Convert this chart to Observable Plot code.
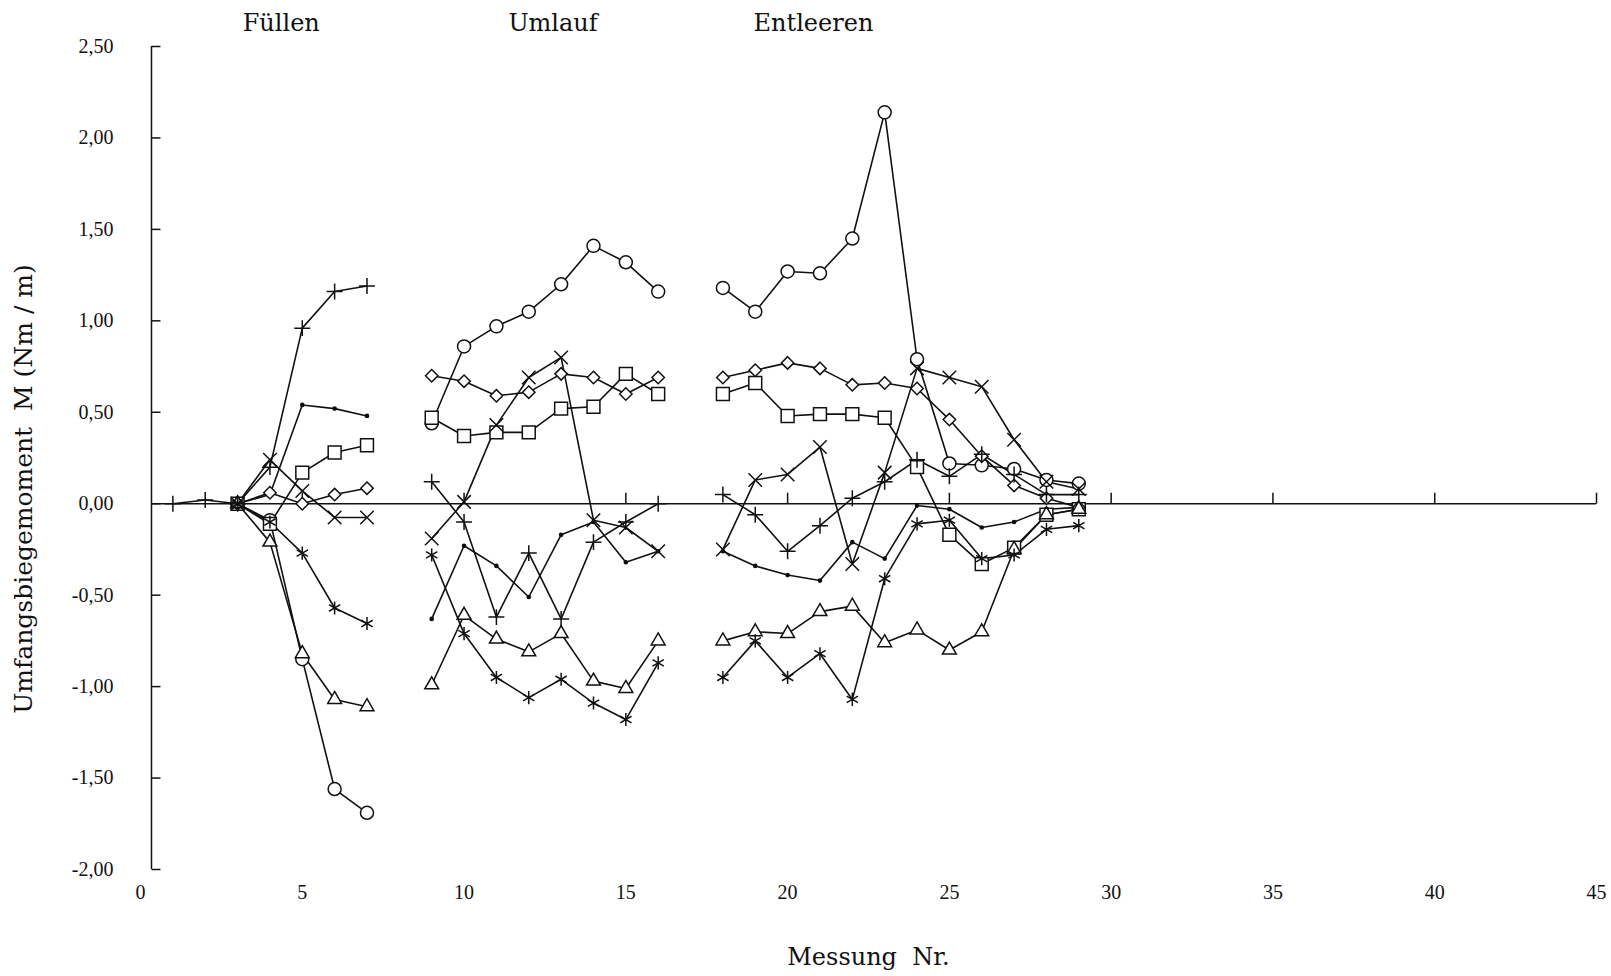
<!DOCTYPE html>
<html>
<head>
<meta charset="utf-8">
<script src="https://cdn.jsdelivr.net/npm/d3@7"></script>
<script src="https://cdn.jsdelivr.net/npm/@observablehq/plot@0.6"></script>
<style>
html, body { margin: 0; padding: 0; background: #fff; }
#chart svg { display: block; }
</style>
</head>
<body>
<div id="chart"></div>
<script>
// Measurement numbers 1..29 (8 and 17 are gaps between phases)
const measurement = [1,2,3,4,5,6,7,8,9,10,11,12,13,14,15,16,17,18,19,20,21,22,23,24,25,26,27,28,29];

const circleVals   = [null,null,0,-0.09,-0.85,-1.56,-1.69,null,0.44,0.86,0.97,1.05,1.20,1.41,1.32,1.16,null,1.18,1.05,1.27,1.26,1.45,2.14,0.79,0.22,0.21,0.19,0.13,0.11];
const plusVals     = [0,0.02,0,0.20,0.96,1.16,1.19,null,0.12,-0.10,-0.62,-0.27,-0.63,-0.21,-0.10,0.00,null,0.05,-0.06,-0.26,-0.12,0.03,0.12,0.24,0.15,0.27,0.16,0.05,0.05];
const squareVals   = [null,null,0,-0.11,0.17,0.28,0.32,null,0.47,0.37,0.39,0.39,0.52,0.53,0.71,0.60,null,0.60,0.66,0.48,0.49,0.49,0.47,0.20,-0.17,-0.33,-0.24,-0.06,-0.03];
const diamondVals  = [null,null,0,0.06,0.00,0.05,0.085,null,0.70,0.67,0.59,0.61,0.71,0.69,0.60,0.69,null,0.69,0.73,0.77,0.74,0.65,0.66,0.63,0.46,0.26,0.10,0.03,-0.02];
const timesVals    = [null,null,0,0.24,0.07,-0.075,-0.075,null,-0.19,0.01,0.43,0.69,0.80,-0.09,-0.13,-0.26,null,-0.25,0.13,0.16,0.31,-0.33,0.17,0.74,0.69,0.64,0.35,0.12,0.08];
const triangleVals = [null,null,0,-0.21,-0.82,-1.07,-1.11,null,-0.99,-0.61,-0.74,-0.81,-0.71,-0.97,-1.01,-0.75,null,-0.75,-0.70,-0.71,-0.59,-0.56,-0.76,-0.69,-0.80,-0.70,-0.25,-0.06,-0.03];
const asteriskVals = [null,null,0,-0.10,-0.27,-0.57,-0.655,null,-0.28,-0.71,-0.95,-1.06,-0.96,-1.09,-1.18,-0.87,null,-0.95,-0.75,-0.95,-0.82,-1.07,-0.41,-0.11,-0.09,-0.30,-0.28,-0.14,-0.12];
const plainVals    = [null,null,0,0.05,0.54,0.52,0.48,null,-0.63,-0.23,-0.34,-0.51,-0.17,-0.10,-0.32,-0.26,null,-0.26,-0.34,-0.39,-0.42,-0.21,-0.30,-0.01,-0.03,-0.13,-0.10,-0.03,-0.02];

const phases = ["Füllen", "Umlauf", "Entleeren"];
const phaseX = [4.35, 12.75, 20.8];

const xTicks = [0,5,10,15,20,25,30,35,40,45];
const yTicks = [-2,-1.5,-1,-0.5,0,0.5,1,1.5,2,2.5];

const xLabel = "Messung\u00a0\u00a0Nr.";
const yLabel = "Umfangsbiegemoment\u00a0\u00a0M\u00a0(Nm\u00a0/\u00a0m)";

const series = [
  {key: "plain",    values: plainVals,    symbol: "circle",   r: 1.6, fill: "black"},
  {key: "circle",   values: circleVals,   symbol: "circle",   r: 6.5, fill: "white"},
  {key: "square",   values: squareVals,   symbol: "square2",  r: 8.2, fill: "white"},
  {key: "diamond",  values: diamondVals,  symbol: "diamond2", r: 5.6, fill: "white"},
  {key: "triangle", values: triangleVals, symbol: "triangle2",r: 6.6, fill: "white"},
  {key: "plus",     values: plusVals,     symbol: "plus",     r: 5.2, fill: "none"},
  {key: "times",    values: timesVals,    symbol: "times",    r: 6.2, fill: "none"},
  {key: "asterisk", values: asteriskVals, symbol: "asterisk", r: 6.2, fill: "none"}
];

const rows = series.flatMap(s => measurement.map((x, i) => ({x, y: s.values[i], key: s.key})));

const fmtY = d => (d < 0 ? "-" : "") + Math.abs(d).toFixed(2).replace(".", ",");
const tickRight = {draw(ctx) { ctx.moveTo(0, 0); ctx.lineTo(9, 0); }};
const tickUp = {draw(ctx) { ctx.moveTo(0, 0); ctx.lineTo(0, -11); }};
const ink = "#111";

const chart = Plot.plot({
  width: 1611,
  height: 976,
  marginLeft: 140,
  marginRight: 15,
  marginTop: 46,
  marginBottom: 107,
  x: {domain: [0, 45]},
  y: {domain: [-2, 2.5]},
  style: {fontFamily: "'Liberation Serif', serif", fontSize: "20px", background: "white", color: ink, overflow: "visible"},
  marks: [
    Plot.ruleX([0], {dx: 11, stroke: ink, strokeWidth: 1.5}),
    Plot.dot(yTicks, {x: () => 0, y: d => d, symbol: tickRight, dx: 11, fill: "none", stroke: ink, strokeWidth: 1.5}),
    Plot.axisY({ticks: yTicks, tickSize: 0, tickPadding: 27, tickFormat: fmtY, label: null}),
    Plot.axisX({ticks: xTicks, tickSize: 0, tickPadding: 15, tickFormat: d => String(d), label: null}),
    Plot.ruleY([0], {insetLeft: 11, stroke: ink, strokeWidth: 1.5}),
    Plot.dot(xTicks.filter(d => d > 0), {x: d => d, y: () => 0, symbol: tickUp, fill: "none", stroke: ink, strokeWidth: 1.5}),
    Plot.line(rows, {x: "x", y: "y", z: "key", stroke: ink, strokeWidth: 1.6}),
    ...series.map(s => Plot.dot(rows.filter(d => d.key === s.key && d.y != null), {
      x: "x", y: "y", symbol: s.symbol, r: s.r, fill: s.fill, stroke: ink, strokeWidth: 1.5
    })),
    Plot.text(phases, {x: phaseX, text: d => d, frameAnchor: "top", dy: -33, fontFamily: "'DejaVu Serif', serif", fontSize: 24, fill: ink}),
    Plot.text([xLabel], {text: d => d, frameAnchor: "bottom", dy: 95, fontFamily: "'DejaVu Serif', serif", fontSize: 24, fill: ink}),
    Plot.text([yLabel], {text: d => d, frameAnchor: "left", textAnchor: "middle", rotate: -90, dx: -117, dy: 31, fontFamily: "'DejaVu Serif', serif", fontSize: 25, fill: ink})
  ]
});
document.getElementById("chart").appendChild(chart);
</script>
</body>
</html>
